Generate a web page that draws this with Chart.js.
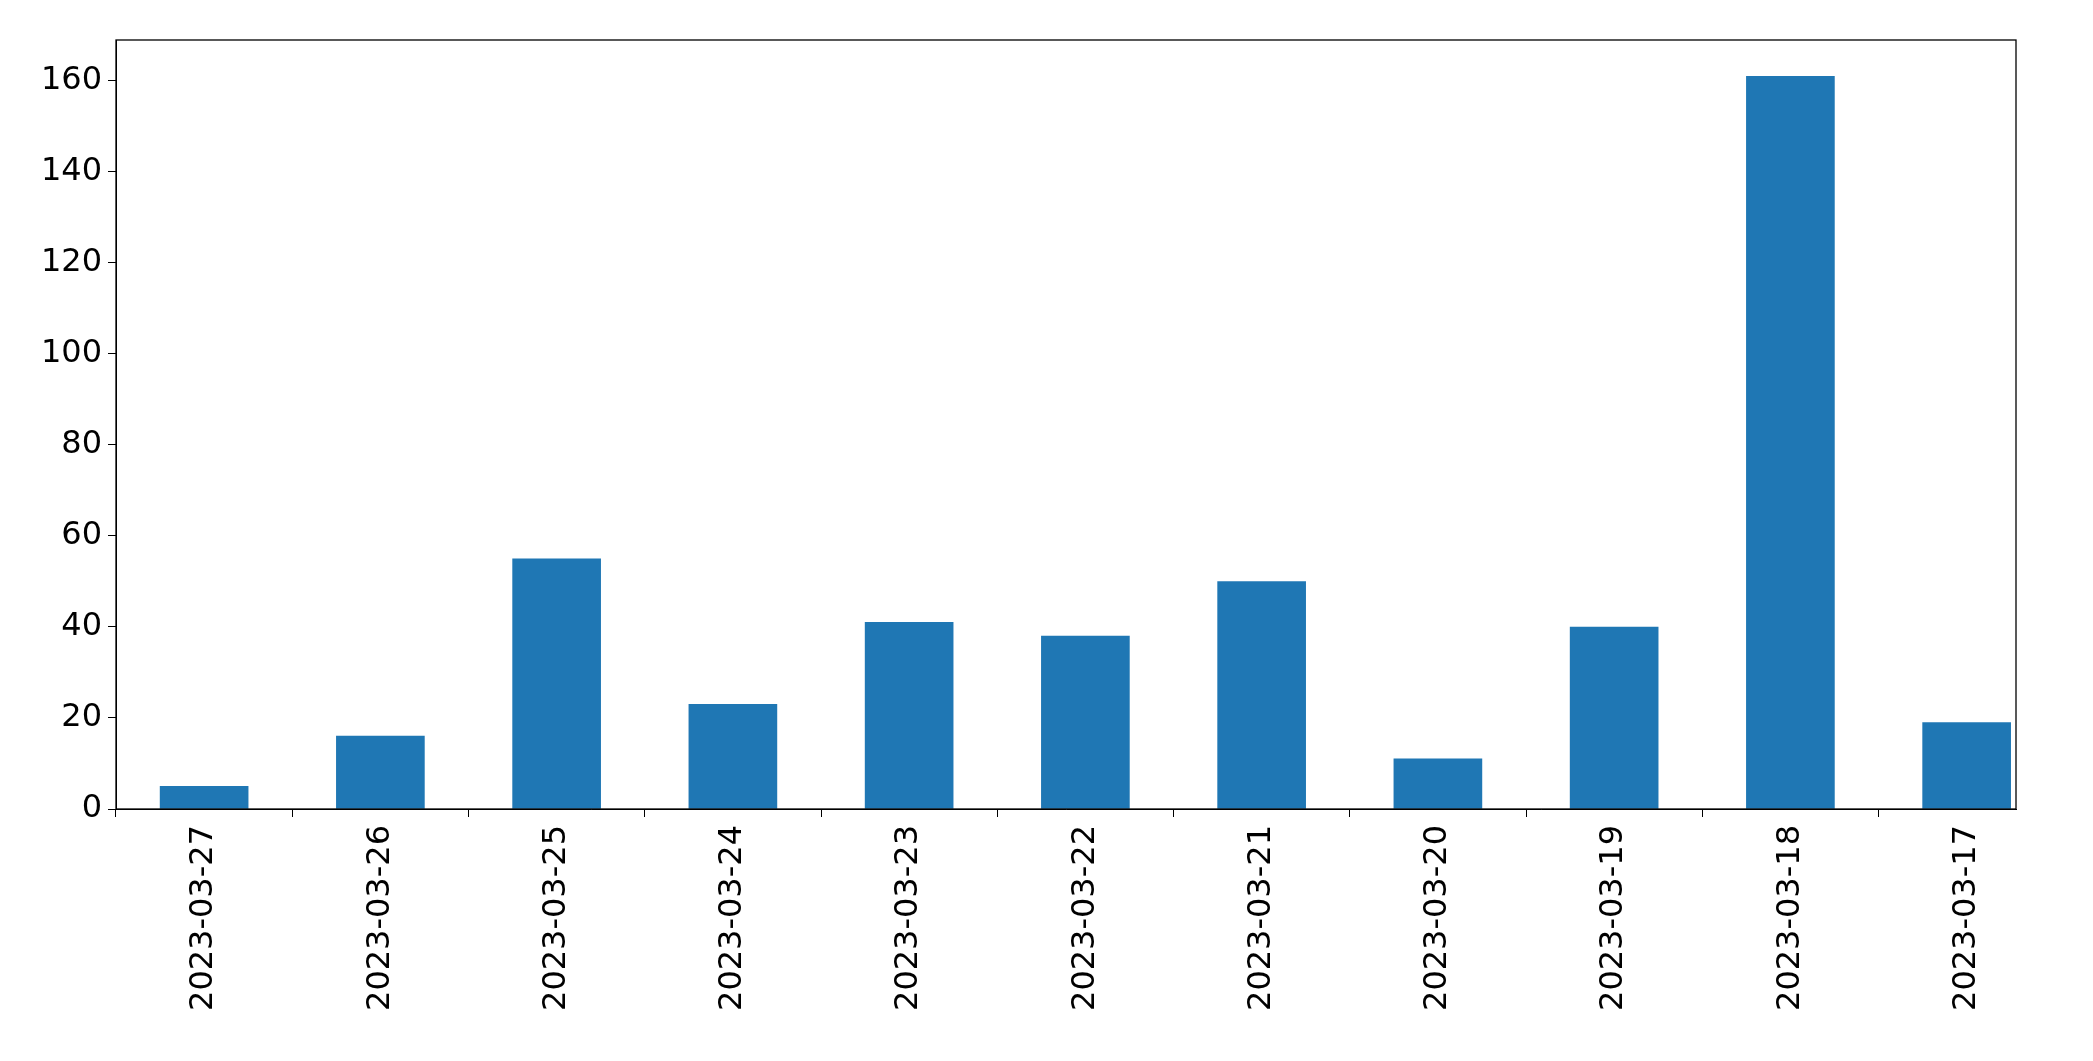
<!DOCTYPE html>
<html><head><meta charset="utf-8">
<script src="https://cdn.jsdelivr.net/npm/chart.js@4"></script>
<style>html,body{margin:0;padding:0;background:#fff}#w{width:2093px;height:1061px}</style>
</head><body><div id="w"><canvas id="c"></canvas></div>
<script>
const categories = ["2023-03-27","2023-03-26","2023-03-25","2023-03-24","2023-03-23","2023-03-22","2023-03-21","2023-03-20","2023-03-19","2023-03-18","2023-03-17"];
const values = [5,16,55,23,41,38,50,11,40,161,19];
const yTicks = [0,20,40,60,80,100,120,140,160];
const frame = {id:'frame',afterDraw(ch){const a=ch.chartArea,x=ch.ctx;x.save();x.strokeStyle='#000';x.lineWidth=1.3;x.strokeRect(a.left,a.top,a.right-a.left,a.bottom-a.top);x.restore();}};
new Chart(document.getElementById('c'),{
 type:'bar',
 data:{datasets:[{data:values.map((v,i)=>({x:i,y:v})),backgroundColor:'#1f77b4',barThickness:88}]},
 options:{responsive:true,maintainAspectRatio:false,animation:false,
  devicePixelRatio:1,
  layout:{padding:{top:40,right:77,left:0,bottom:0}},
  plugins:{legend:{display:false},tooltip:{enabled:false}},
  scales:{
   x:{type:'linear',min:-0.5,max:10.28,offset:false,grid:{drawOnChartArea:false,tickLength:8,color:'#000'},border:{color:'#000'},
      ticks:{color:'#000',font:{family:'DejaVu Sans',size:32},maxRotation:90,minRotation:90,padding:8,autoSkip:false,
        callback:(v)=>categories[v]},
      afterBuildTicks(s){s.ticks=categories.map((c,i)=>({value:i}));},
      afterFit(s){s.height=252;}},
   y:{min:0,max:169,grid:{drawOnChartArea:false,tickLength:8,color:'#000'},border:{color:'#000'},
      ticks:{color:'#000',font:{family:'DejaVu Sans',size:32},padding:6},
      afterBuildTicks(s){s.ticks=yTicks.map(v=>({value:v}));},
      afterFit(s){s.width=116;}}
  }},
 plugins:[frame]
});
</script></body></html>
